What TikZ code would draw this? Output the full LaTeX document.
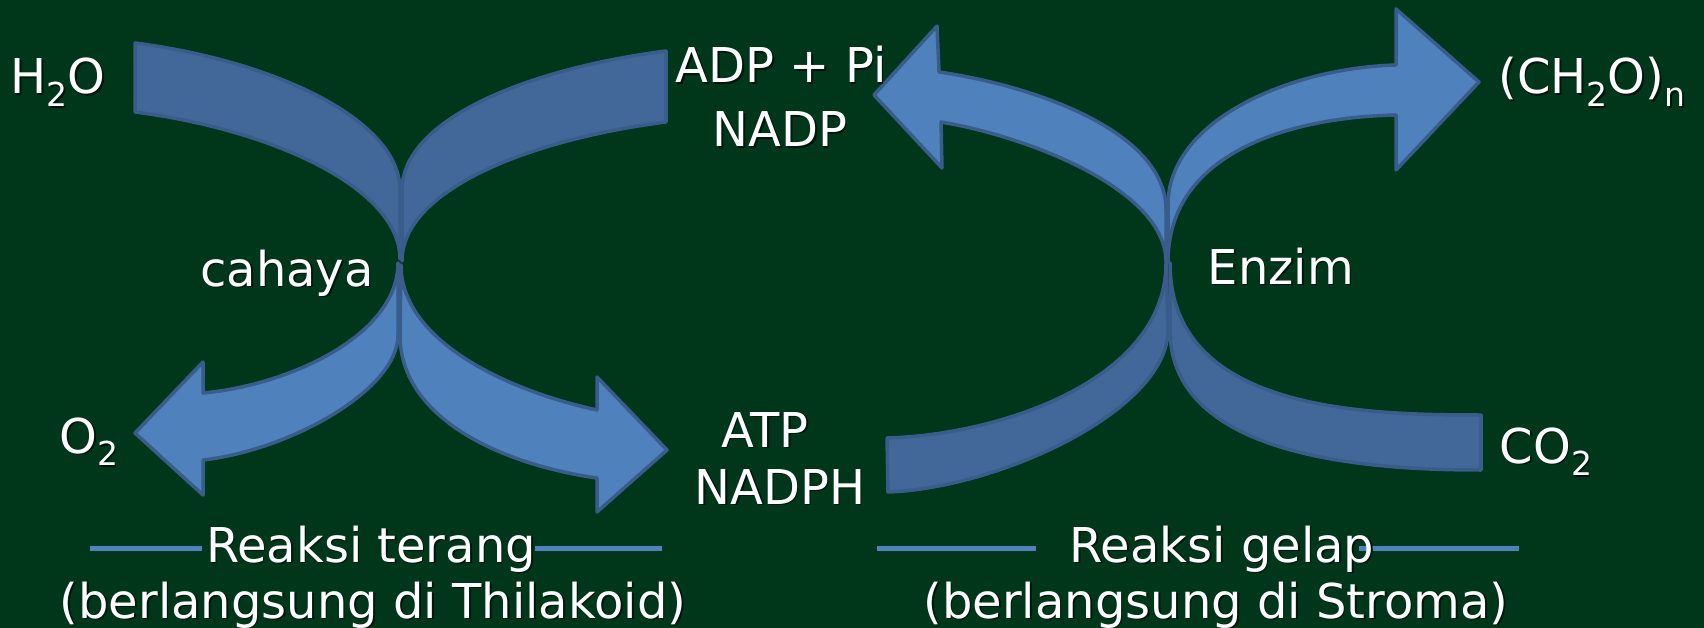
\documentclass[tikz,border=0pt]{standalone}
\usepackage{fontspec}
\setmainfont{DejaVu Sans}
\definecolor{bg}{RGB}{0,54,26}
\definecolor{bandfill}{RGB}{66,104,153}
\definecolor{arrowfill}{RGB}{79,129,189}
\definecolor{edge}{RGB}{56,93,138}
\definecolor{rulecol}{RGB}{79,129,189}
\definecolor{shade}{RGB}{0,22,10}
% lowered index for chemical formulas
\newcommand\lowidx[1]{\raisebox{-0.27em}{\fontsize{33}{33}\selectfont #1}}
% white text with a small dark drop shadow
\newcommand\shd[1]{\leavevmode\rlap{\hspace{1.6pt}\raisebox{-1.6pt}{\color{shade}#1}}#1}

\begin{document}
\begin{tikzpicture}[x=1pt,y=-1pt,
  band/.style={fill=bandfill,draw=edge,line width=3.5pt,line join=round},
  arr/.style={fill=arrowfill,draw=edge,line width=3.5pt,line join=round},
  lbl/.style={text=white,font=\fontsize{48}{56}\selectfont,anchor=base,inner sep=0pt},
  rulebar/.style={draw=rulecol,line width=5pt}]
\fill[bg] (0,0) rectangle (1704,628);
\useasboundingbox (0,0) rectangle (1704,628);

% ---- light reaction: incoming bands
\draw[band] (135,43) -- (135,112) .. controls (275,130) and (400,189) .. (400,259)
  -- (400,190) .. controls (400,120) and (275,61) .. (135,43) -- cycle;
\draw[band] (666,51) -- (666,122) .. controls (526,140) and (402,191) .. (402,261)
  -- (402,190) .. controls (402,120) and (526,69) .. (666,51) -- cycle;
% ---- light reaction: outgoing arrows
\draw[arr] (398,263) .. controls (398,335) and (290,385) .. (203,393) -- (203,362)
  -- (135,433) -- (203,495) -- (203,460) .. controls (290,450) and (398,390) .. (398,335) -- cycle;
\draw[arr] (401,265) .. controls (401,340) and (505,390) .. (597,410) -- (597,377)
  -- (667,450) -- (597,512) -- (597,478) .. controls (505,465) and (400,420) .. (400,335) -- cycle;

% ---- dark reaction: outgoing arrows
\draw[arr] (939,72) .. controls (1030,85) and (1166,130) .. (1166,210) -- (1166,262)
  .. controls (1166,190) and (1030,137) .. (941,122) -- (942,168) -- (874,95) -- (937,26) -- cycle;
\draw[arr] (1396,65) .. controls (1290,68) and (1168,120) .. (1168,205) -- (1168,262)
  .. controls (1168,150) and (1295,117) .. (1396,115) -- (1396,170) -- (1479,82) -- (1396,9) -- cycle;
% ---- dark reaction: incoming bands
\draw[band] (887,438) -- (888,492) .. controls (1000,488) and (1168,410) .. (1168,330)
  -- (1166,263) .. controls (1166,380) and (1000,435) .. (887,438) -- cycle;
\draw[band] (1481,415) -- (1481,470) .. controls (1360,470) and (1170,455) .. (1170,330)
  -- (1170,263) .. controls (1170,410) and (1360,415) .. (1481,415) -- cycle;

% ---- underlines of the headings
\coordinate (ta1) at (90,548);  \coordinate (ta2) at (202,548);
\coordinate (tb1) at (535,548); \coordinate (tb2) at (662,548);
\coordinate (ga1) at (877,548); \coordinate (ga2) at (1036,548);
\coordinate (gb1) at (1359,548); \coordinate (gb2) at (1519,548);
\draw[rulebar] (ta1) -- (ta2);
\draw[rulebar] (tb1) -- (tb2);
\draw[rulebar] (ga1) -- (ga2);
\draw[rulebar] (gb1) -- (gb2);

% ---- labels
\node[lbl] (h2o)   at (58,94)   {\shd{H\lowidx{2}O}};
\node[lbl] (adp)   at (781,83)  {\shd{ADP + Pi}};
\node[lbl] (nadp)  at (780,147) {\shd{NADP}};
\node[lbl] (light) at (287,286) {\shd{cahaya}};
\node[lbl] (enz)   at (1281,284) {\shd{Enzim}};
\node[lbl] (ch2o)  at (1592,94) {\shd{(CH\lowidx{2}O)\lowidx{n}}};
\node[lbl] (o2)    at (89,453)  {\shd{O\lowidx{2}}};
\node[lbl] (atp)   at (765,447) {\shd{ATP}};
\node[lbl] (nadph) at (780,504) {\shd{NADPH}};
\node[lbl] (co2)   at (1546,463) {\shd{CO\lowidx{2}}};
\node[lbl] (terang) at (371,562) {\shd{Reaksi terang}};
\node[lbl] (thil)  at (373,618) {\shd{(berlangsung di Thilakoid)}};
\node[lbl] (gelap) at (1222,562) {\shd{Reaksi gelap}};
\node[lbl] (strom) at (1216,618) {\shd{(berlangsung di Stroma)}};
\end{tikzpicture}
\end{document}
